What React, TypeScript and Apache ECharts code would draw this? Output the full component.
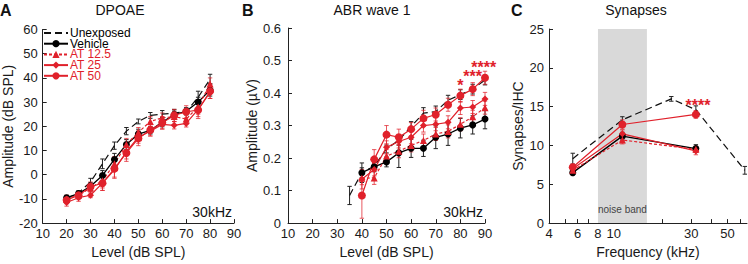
import React, { useEffect, useRef } from "react";
import * as echarts from "echarts";

const RED = "#e0212b";
const BLACK = "#111111";
const FONT = "'Liberation Sans', Arial, Helvetica, sans-serif";

const seriesNames = ["Unexposed", "Vehicle", "AT 12.5", "AT 25", "AT 50"];

// ---------- Panel A: DPOAE, 30 kHz ----------
const aLevels = [20, 25, 30, 35, 40, 45, 50, 55, 60, 65, 70, 75, 80];
const aUnexposed = [-10, -7.5, -3, 4.5, 12, 18, 22, 24.5, 25, 25.5, 26, 32, 39.5];
const aUnexposedErr = [1, 0.8, 1.5, 2, 1.5, 1.5, 1, 1.2, 1.5, 1.5, 1, 2.5, 2];
const aVehicle = [-9.5, -7.8, -4.8, -0.3, 6.3, 12.5, 16.8, 18.3, 21.8, 24.8, 26.2, 30, 35];
const aVehicleErr = [1, 1, 1.5, 2, 2.5, 2, 2, 1.5, 2, 1.5, 1.5, 2, 2.5];
const aAT125 = [-10, -8.5, -5.5, -2.5, 4.5, 12.5, 17.5, 22, 23.5, 24, 23, 28, 37.5];
const aAT125Err = [1.5, 1.5, 1.5, 3, 3, 2.5, 2, 2, 2, 2, 2, 3, 2.5];
const aAT25 = [-11.5, -9.5, -8.5, -3.5, 2, 9.5, 15.5, 18, 20.8, 20.4, 21.2, 27, 34];
const aAT25Err = [1.5, 1.5, 1, 3, 3.5, 3, 2.5, 2, 2, 1.5, 1.5, 3, 2.5];
const aAT50 = [-10.5, -8.5, -5, -3.5, 2.5, 9, 15, 18.5, 21.5, 24.5, 26, 26.7, 34.5];
const aAT50Err = [1.5, 1.5, 2, 3, 3.5, 3.5, 3, 2.5, 2.5, 2.5, 2.5, 3.5, 3];

// ---------- Panel B: ABR wave 1, 30 kHz ----------
const bLevels = [40, 45, 50, 55, 60, 65, 70, 75, 80, 85, 90];
const bUnexposedLevels = [35, 40, 45, 50, 55, 60, 65, 70, 75, 80, 85, 90];
const bUnexposed = [0.085, 0.155, 0.175, 0.228, 0.255, 0.297, 0.338, 0.343, 0.378, 0.395, 0.412, 0.44];
const bUnexposedErr = [0.028, 0.015, 0.012, 0.012, 0.015, 0.015, 0.017, 0.017, 0.015, 0.015, 0.015, 0.015];
const bVehicle = [0.155, 0.173, 0.188, 0.216, 0.23, 0.23, 0.264, 0.274, 0.292, 0.302, 0.32];
const bVehicleErr = [0.03, 0.015, 0.015, 0.045, 0.028, 0.025, 0.035, 0.035, 0.03, 0.028, 0.03];
const bAT125 = [0.138, 0.139, 0.206, 0.221, 0.239, 0.254, 0.274, 0.282, 0.304, 0.327, 0.355];
const bAT125Err = [0.02, 0.02, 0.02, 0.02, 0.02, 0.02, 0.02, 0.02, 0.02, 0.02, 0.02];
const bAT25 = [0.135, 0.165, 0.233, 0.251, 0.264, 0.3, 0.304, 0.31, 0.354, 0.357, 0.382];
const bAT25Err = [0.03, 0.02, 0.02, 0.02, 0.02, 0.02, 0.02, 0.02, 0.02, 0.02, 0.02];
const bAT50 = [0.085, 0.196, 0.272, 0.264, 0.289, 0.322, 0.334, 0.364, 0.392, 0.412, 0.447];
const bAT50Err = [0.07, 0.03, 0.028, 0.025, 0.02, 0.025, 0.02, 0.02, 0.02, 0.02, 0.02];
const bStarLevels = [80, 85, 89.5];
const bStarValues = [0.424, 0.451, 0.478];
const bStarTexts = ["*", "***", "****"];

// ---------- Panel C: Synapses vs frequency ----------
const cFreqs = [5.6, 11.3, 32];
const cUnexposedFreqs = [5.6, 11.3, 22.6, 32, 64];
const cUnexposed = [8.3, 13.3, 16, 14.6, 6.8];
const cUnexposedErr = [0.7, 0.4, 0.3, 0.5, 0.5];
const cVehicle = [6.5, 11.2, 9.6];
const cVehicleErr = [0.3, 0.5, 0.5];
const cAT125 = [6.8, 10.7, 9.5];
const cAT125Err = [0.4, 0.5, 0.4];
const cAT25 = [7.0, 11.5, 9.3];
const cAT25Err = [0.4, 0.5, 0.5];
const cAT50 = [7.2, 12.7, 14.0];
const cAT50Err = [0.4, 0.6, 0.5];
const cStarFreqs = [33];
const cStarValues = [15.2];
const cStarTexts = ["****"];
const cTickValues = [4, 5, 6, 7, 8, 9, 10, 20, 30, 40, 50, 60];
const cLabelValues = [4, 6, 8, 10, 30, 50];
const noiseBand = [8, 16];

const styleOf: Record<string, any> = {
  Unexposed: { color: BLACK, type: [7, 4], symbol: "none", size: 0, width: 1.2 },
  Vehicle: { color: "#000", type: "solid", symbol: "circle", size: 7, width: 1.3 },
  "AT 12.5": { color: RED, type: [3, 2], symbol: "triangle", size: 7, width: 1.2 },
  "AT 25": { color: RED, type: "solid", symbol: "diamond", size: 7, width: 1.2 },
  "AT 50": { color: RED, type: "solid", symbol: "circle", size: 8, width: 1.2 },
};

function errorBarRender(color: string) {
  return (_params: any, api: any) => {
    const x = api.value(0);
    const lo = api.coord([x, api.value(1)]);
    const hi = api.coord([x, api.value(2)]);
    const w = 2.2;
    const style = { stroke: color, lineWidth: 1, fill: null };
    return {
      type: "group",
      children: [
        { type: "line", shape: { x1: lo[0], y1: lo[1], x2: hi[0], y2: hi[1] }, style },
        { type: "line", shape: { x1: hi[0] - w, y1: hi[1], x2: hi[0] + w, y2: hi[1] }, style },
        { type: "line", shape: { x1: lo[0] - w, y1: lo[1], x2: lo[0] + w, y2: lo[1] }, style },
      ],
    };
  };
}

function buildSeries(panel: number, name: string, xs: number[], ys: number[], errs: number[], extra: any = {}) {
  const s = styleOf[name];
  const errColor = s.color === RED ? "rgba(224,33,43,0.75)" : "#222";
  return [
    {
      type: "custom",
      name: name + " SEM",
      xAxisIndex: panel,
      yAxisIndex: panel,
      silent: true,
      z: 2,
      data: xs.map((x, i) => [x, ys[i] - errs[i], ys[i] + errs[i]]),
      encode: { x: 0, y: [1, 2] },
      renderItem: errorBarRender(errColor),
    },
    {
      type: "line",
      name,
      xAxisIndex: panel,
      yAxisIndex: panel,
      data: xs.map((x, i) => [x, ys[i]]),
      symbol: s.symbol,
      symbolSize: s.size,
      showSymbol: s.symbol !== "none",
      lineStyle: { color: s.color, width: s.width, type: s.type },
      itemStyle: { color: s.color },
      z: 3,
      ...extra,
    },
  ];
}

function starSeries(panel: number, xs: number[], ys: number[], texts: string[]) {
  return {
    type: "scatter",
    name: "stars" + panel,
    xAxisIndex: panel,
    yAxisIndex: panel,
    silent: true,
    symbolSize: 1,
    itemStyle: { color: "rgba(255,255,255,0)" },
    z: 5,
    data: xs.map((x, i) => [x, ys[i], texts[i]]),
    label: {
      show: true,
      position: "inside",
      formatter: (p: any) => p.value[2],
      color: RED,
      opacity: 1,
      fontSize: 16,
      lineHeight: 9,
      fontWeight: "bold",
      fontFamily: FONT,
    },
  };
}

const axisCommon = {
  axisLine: { onZero: false, lineStyle: { color: "#222", width: 1 } },
  axisTick: { inside: true, length: 4, lineStyle: { color: "#222" } },
  splitLine: { show: false },
  axisLabel: { color: "#1a1a1a", fontSize: 13, fontFamily: FONT },
  nameTextStyle: { color: "#1a1a1a", fontSize: 14, fontFamily: FONT },
  nameLocation: "middle",
};

export default function App() {
  const ref = useRef<HTMLDivElement>(null);
  useEffect(() => {
    if (!ref.current) return;
    const chart = echarts.init(ref.current, undefined, { renderer: "svg" });
    const series: any[] = [
      ...buildSeries(0, "Unexposed", aLevels, aUnexposed, aUnexposedErr),
      ...buildSeries(0, "Vehicle", aLevels, aVehicle, aVehicleErr),
      ...buildSeries(0, "AT 12.5", aLevels, aAT125, aAT125Err),
      ...buildSeries(0, "AT 25", aLevels, aAT25, aAT25Err),
      ...buildSeries(0, "AT 50", aLevels, aAT50, aAT50Err),
      ...buildSeries(1, "Unexposed", bUnexposedLevels, bUnexposed, bUnexposedErr),
      ...buildSeries(1, "Vehicle", bLevels, bVehicle, bVehicleErr),
      ...buildSeries(1, "AT 12.5", bLevels, bAT125, bAT125Err),
      ...buildSeries(1, "AT 25", bLevels, bAT25, bAT25Err),
      ...buildSeries(1, "AT 50", bLevels, bAT50, bAT50Err),
      ...buildSeries(2, "Unexposed", cUnexposedFreqs, cUnexposed, cUnexposedErr, {
        markArea: {
          silent: true,
          itemStyle: { color: "#d9d9d9" },
          label: {
            show: true,
            position: "insideBottom",
            distance: 9,
            color: "#444",
            fontSize: 10,
            fontFamily: FONT,
          },
          data: [[{ name: "noise band", xAxis: noiseBand[0], yAxis: 0 }, { xAxis: noiseBand[1], yAxis: 25 }]],
        },
      }),
      ...buildSeries(2, "Vehicle", cFreqs, cVehicle, cVehicleErr),
      ...buildSeries(2, "AT 12.5", cFreqs, cAT125, cAT125Err),
      ...buildSeries(2, "AT 25", cFreqs, cAT25, cAT25Err),
      ...buildSeries(2, "AT 50", cFreqs, cAT50, cAT50Err),
      starSeries(1, bStarLevels, bStarValues, bStarTexts),
      starSeries(2, cStarFreqs, cStarValues, cStarTexts),
    ];

    const titleText = (text: string, x: number, y: number, opts: any = {}) => ({
      type: "text",
      x,
      y,
      silent: true,
      style: {
        text,
        fill: "#111",
        fontSize: 14,
        fontFamily: FONT,
        align: "center",
        verticalAlign: "middle",
        ...opts,
      },
    });

    chart.setOption({
      animation: false,
      textStyle: { fontFamily: FONT },
      grid: [
        { left: 40, top: 29.5, width: 194, height: 198.5 },
        { left: 288, top: 28, width: 197, height: 199 },
        { left: 549, top: 29, width: 198, height: 199 },
      ],
      xAxis: [
        {
          ...axisCommon,
          gridIndex: 0,
          type: "value",
          min: 10,
          max: 90,
          interval: 10,
          name: "Level (dB SPL)",
          nameGap: 16,
          axisLabel: { ...axisCommon.axisLabel, margin: 4 },
        },
        {
          ...axisCommon,
          gridIndex: 1,
          type: "value",
          min: 10,
          max: 90,
          interval: 10,
          name: "Level (dB SPL)",
          nameGap: 16,
          axisLabel: { ...axisCommon.axisLabel, margin: 4 },
        },
        {
          ...axisCommon,
          gridIndex: 2,
          type: "log",
          logBase: 10,
          min: 4,
          max: 66,
          name: "Frequency (kHz)",
          nameGap: 17,
          axisTick: { ...axisCommon.axisTick, customValues: cTickValues },
          axisLabel: { ...axisCommon.axisLabel, margin: 4, customValues: cLabelValues },
        },
      ],
      yAxis: [
        {
          ...axisCommon,
          gridIndex: 0,
          type: "value",
          min: -20,
          max: 60,
          interval: 10,
          name: "Amplitude (dB SPL)",
          nameGap: 25,
          axisLabel: { ...axisCommon.axisLabel, margin: 5 },
        },
        {
          ...axisCommon,
          gridIndex: 1,
          type: "value",
          min: 0,
          max: 0.6,
          interval: 0.1,
          name: "Amplitude (µV)",
          nameGap: 27,
          axisLabel: { ...axisCommon.axisLabel, margin: 7 },
        },
        {
          ...axisCommon,
          gridIndex: 2,
          type: "value",
          min: 0,
          max: 25,
          interval: 5,
          name: "Synapses/IHC",
          nameGap: 24,
          axisLabel: { ...axisCommon.axisLabel, margin: 5 },
        },
      ],
      legend: {
        orient: "vertical",
        left: 43,
        top: 27,
        padding: 0,
        itemWidth: 24,
        itemHeight: 9,
        itemGap: -1.3,
        selectedMode: false,
        textStyle: { fontSize: 12, fontFamily: FONT, padding: [0, 0, 0, -3] },
        data: seriesNames.map((n) => ({
          name: n,
          textStyle: { color: n.startsWith("AT") ? RED : "#000" },
          ...(n === "Unexposed" ? { itemStyle: { opacity: 0 } } : {}),
        })),
      },
      graphic: [
        titleText("A", 0, 10, { fontWeight: "bold", fontSize: 16, align: "left" }),
        titleText("DPOAE", 120, 10),
        titleText("B", 242, 10, { fontWeight: "bold", fontSize: 16, align: "left" }),
        titleText("ABR wave 1", 372, 10),
        titleText("C", 511, 10, { fontWeight: "bold", fontSize: 16, align: "left" }),
        titleText("Synapses", 636, 10),
        titleText("30kHz", 232, 212, { align: "right" }),
        titleText("30kHz", 483, 212, { align: "right" }),
      ],
      series,
    });
    return () => chart.dispose();
  }, []);
  return (
    <div
      ref={ref}
      style={{ position: "absolute", left: 0, top: 0, width: 748, height: 264, background: "#fff" }}
    />
  );
}
